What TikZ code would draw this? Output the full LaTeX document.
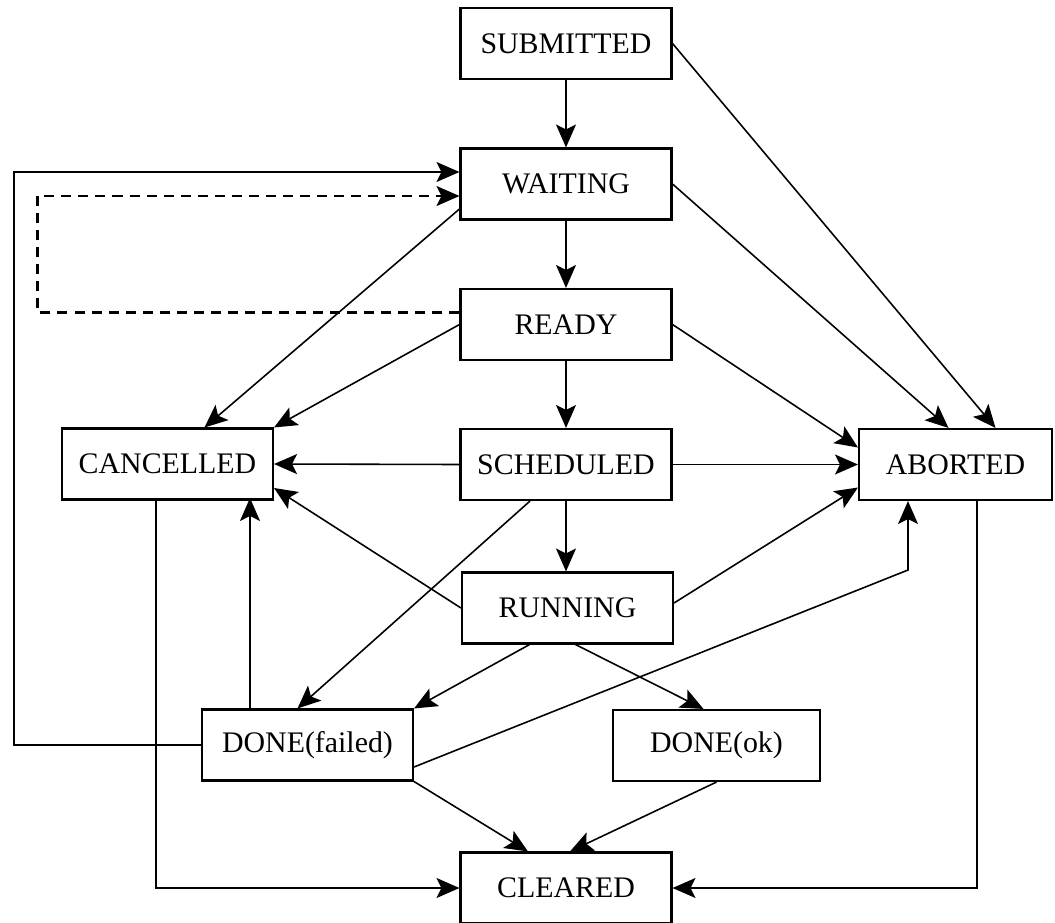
\documentclass[tikz,border=0pt]{standalone}
\usepackage{fontspec}
\setmainfont{Liberation Serif}
\usetikzlibrary{arrows.meta, calc}
\tikzset{
  estado/.style     = {draw, black, line width=1.2pt, minimum width=4.22cm, minimum height=1.42cm,
                       inner sep=0pt, font=\fontsize{17}{20}\selectfont},
  flecha/.style     = {->, black, line width=0.9pt},
  flechadash/.style = {->, black, line width=1.2pt, dash pattern=on 5.7pt off 4pt}
}

\begin{document}
\begin{tikzpicture}[>={Stealth[length=0.46cm, width=0.4cm, inset=0.1cm]}, x=0.02cm, y=-0.02cm]
  \useasboundingbox (0,0) rectangle (1055,923);

  % states
  \node[estado] (submitted) at (566,43.5)  {SUBMITTED};
  \node[estado] (waiting)   at (566,184)   {WAITING};
  \node[estado] (ready)     at (566,324.5) {READY};
  \node[estado] (scheduled) at (566,464.5) {SCHEDULED};
  \node[estado] (running)   at (567.5,608) {RUNNING};
  \node[estado] (cancelled) at (167.5,464) {CANCELLED};
  \node[estado, minimum width=3.86cm] (aborted) at (955.5,464.5) {ABORTED};
  \node[estado] (failed)    at (307.5,745) {DONE(failed)};
  \node[estado, minimum width=4.14cm] (ok) at (716.5,745.5) {DONE(ok)};
  \node[estado] (cleared)   at (566,888)   {CLEARED};

  \coordinate (codo) at (908,570);

  % main chain
  \draw[flecha] (submitted) -- (waiting);
  \draw[flecha] (waiting) -- (ready);
  \draw[flecha] (ready) -- (scheduled);
  \draw[flecha] (scheduled.south) -- (scheduled.south |- running.north);

  % to ABORTED
  \draw[flecha] (submitted.east) -- ($(aborted.north)+(40,0)$);
  \draw[flecha] (waiting.east) -- ($(aborted.north)+(-7,0)$);
  \draw[flecha] (ready.east) -- ($(aborted.west)+(0,-17)$);
  \draw[flecha] (scheduled.east) -- (aborted.west);
  \draw[flecha] ($(running.east)+(0,-5)$) -- ($(aborted.west)+(0,23)$);
  \draw[flecha] ($(failed.east)+(0,22)$) -- (codo) -- (codo |- aborted.south);

  % to CANCELLED
  \draw[flecha] ($(waiting.west)+(0,25)$) -- ($(cancelled.north)+(37,0)$);
  \draw[flecha] (ready.west) -- (cancelled.north east);
  \draw[flecha] (scheduled.west) -- (cancelled.east);
  \draw[flecha] (running.west) -- ($(cancelled.east)+(0,24)$);
  \draw[flecha] ($(failed.north)+(-57.5,0)$) -- ++(0,-210.5);

  % back to WAITING
  \draw[flechadash] ($(ready.west)+(0,-12)$) -- ++(-422,0) |- ($(waiting.west)+(0,12)$);
  \draw[flecha] (failed.west) -- ++(-187,0) |- ($(waiting.west)+(0,-12)$);

  % to DONE
  \draw[flecha] ($(scheduled.south)+(-36,0)$) -- ($(failed.north)+(-10,0)$);
  \draw[flecha] ($(running.south)+(-38,0)$) -- (failed.north east);
  \draw[flecha] ($(running.south)+(8,0)$) -- ($(ok.north)+(-13,0)$);

  % to CLEARED
  \draw[flecha] (failed.south east) -- ($(cleared.north)+(-38,0)$);
  \draw[flecha] (ok.south) -- ($(cleared.north)+(4,0)$);
  \draw[flecha] ($(cancelled.south)+(-11.5,0)$) |- (cleared.west);
  \draw[flecha] ($(aborted.south)+(21.5,0)$) |- (cleared.east);
\end{tikzpicture}
\end{document}
